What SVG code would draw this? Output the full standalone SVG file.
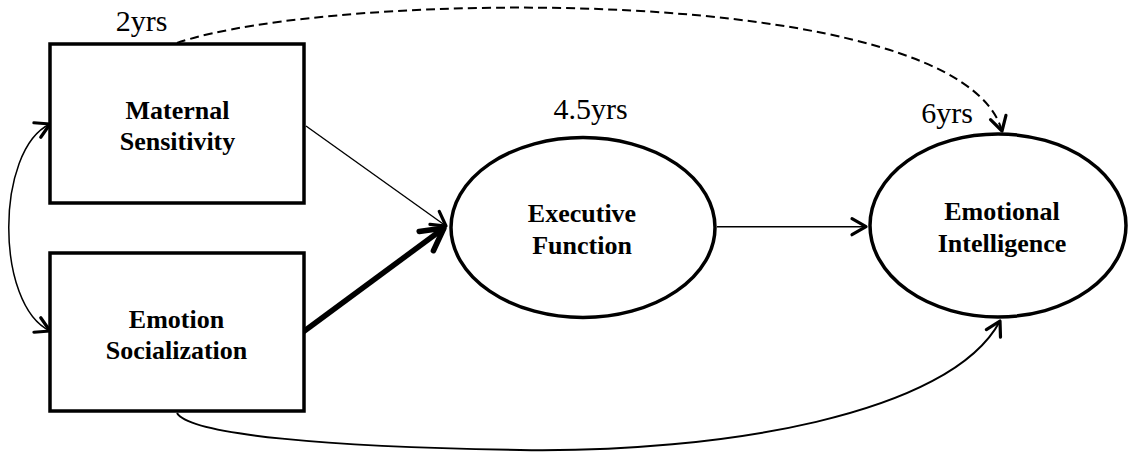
<svg xmlns="http://www.w3.org/2000/svg" width="1128" height="453" viewBox="0 0 1128 453">
<style>
.box{fill:#fff;stroke:#000;stroke-width:3.5}
.lbl{font-family:"Liberation Serif","Times New Roman",serif;font-weight:bold;font-size:26px;fill:#000;text-anchor:middle}
.age{font-family:"Liberation Serif","Times New Roman",serif;font-size:30px;fill:#000;text-anchor:middle}
.thin{fill:none;stroke:#000;stroke-width:1.4}
.curve{fill:none;stroke:#000;stroke-width:2}
.dash{fill:none;stroke:#000;stroke-width:2;stroke-dasharray:9 5}
.thick{fill:none;stroke:#000;stroke-width:5.5}
</style>
<defs>
<marker id="ah" markerUnits="userSpaceOnUse" viewBox="-20 -12 24 24" markerWidth="24" markerHeight="24" refX="0" refY="0" orient="auto-start-reverse" overflow="visible">
<path d="M-14,-8 L0,0 L-14,8" fill="none" stroke="#000" stroke-width="3.2" stroke-linecap="round" stroke-linejoin="round"/>
</marker>
<marker id="ahb" markerUnits="userSpaceOnUse" viewBox="-30 -16 34 32" markerWidth="34" markerHeight="32" refX="0" refY="0" orient="auto" overflow="visible">
<path d="M-22,-12 L0,0 L-22,12" fill="none" stroke="#000" stroke-width="5.5" stroke-linecap="round" stroke-linejoin="round"/>
</marker>
</defs>
<g id="connectors">
<path class="thin" d="M306,126 L446,226" marker-end="url(#ah)"/>
<path class="thick" d="M303,332 L444,228" marker-end="url(#ahb)"/>
<path class="thin" d="M717,226.7 L866,226.7" marker-end="url(#ah)"/>
<path class="dash" d="M177,43 C330,-10 960,-20 1002,131" marker-end="url(#ah)"/>
<path class="curve" d="M177,413 C190,435 330,447 520,450 C720,453 950,415 1000,321" marker-end="url(#ah)"/>
<path class="curve" style="stroke-width:1.5" d="M50,124 C-5,150 -5,305 50,331" marker-start="url(#ah)" marker-end="url(#ah)"/>
</g>
<g id="maternal-sensitivity">
<rect class="box" x="50" y="44" width="254" height="159"/>
<text class="lbl" x="177.5" y="119">Maternal</text>
<text class="lbl" x="177.5" y="150">Sensitivity</text>
</g>
<g id="emotion-socialization">
<rect class="box" x="50" y="253" width="254" height="158"/>
<text class="lbl" x="176.5" y="327.5">Emotion</text>
<text class="lbl" x="176.5" y="359">Socialization</text>
</g>
<g id="executive-function">
<ellipse class="box" cx="583" cy="227.5" rx="132" ry="90"/>
<text class="lbl" x="582" y="221.5">Executive</text>
<text class="lbl" x="582" y="254">Function</text>
</g>
<g id="emotional-intelligence">
<ellipse class="box" cx="998" cy="225.5" rx="128" ry="91.5"/>
<text class="lbl" x="1002" y="220">Emotional</text>
<text class="lbl" x="1002" y="251.7">Intelligence</text>
</g>
<g id="ages">
<text class="age" x="141.5" y="30.7">2yrs</text>
<text class="age" x="590.5" y="119">4.5yrs</text>
<text class="age" x="947" y="122.7">6yrs</text>
</g>
</svg>
